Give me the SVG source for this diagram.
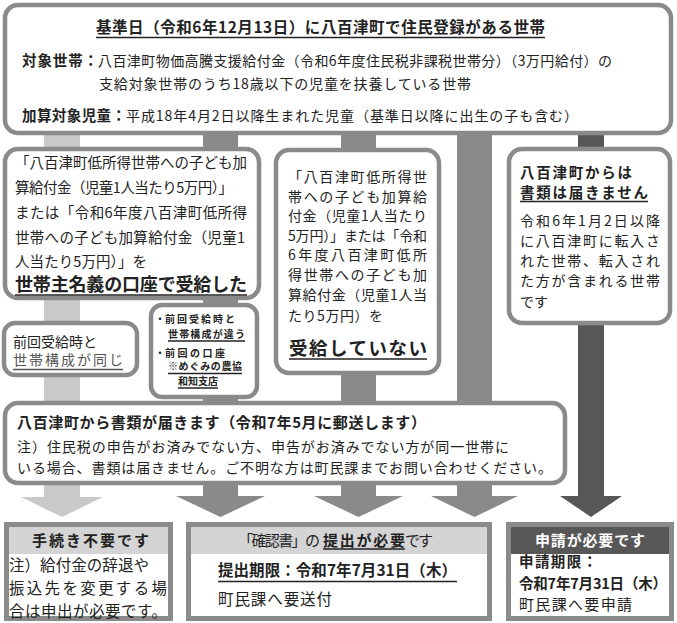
<svg xmlns="http://www.w3.org/2000/svg" width="677" height="623" viewBox="0 0 677 623" font-size="14">
<style>
.t{font-family:"Noto Sans CJK JP","Noto Sans",sans-serif;fill:#222}
.b{font-weight:700}
.w{fill:#fff}
.g{fill:#555}
.box{fill:#fff;stroke:#8a8a8a;stroke-width:4.5}
.sq{fill:#fff;stroke:#8a8a8a;stroke-width:5}
.ul{stroke:#222;stroke-width:1.5}
.lt{fill:#c9c9c9}
.md{fill:#8a8a8a}
.dk{fill:#575757}
</style>
<rect width="677" height="623" fill="#fff"/>
<g id="connectors">
<rect class="lt" x="44" y="130" width="36" height="368"/>
<polygon class="lt" points="21,497 103,497 62,517"/>
<rect class="md" x="203" y="130" width="35" height="368"/>
<polygon class="md" points="176,496 265,496 220.5,517"/>
<rect class="md" x="341" y="130" width="35" height="368"/>
<polygon class="md" points="314,496 403,496 358.5,517"/>
<rect class="md" x="457" y="130" width="35" height="368"/>
<polygon class="md" points="431,496 518,496 474.5,517"/>
<rect class="dk" x="578" y="130" width="26" height="368"/>
<polygon class="dk" points="560,496 622,496 591,517"/>
</g>
<g id="top">
<rect class="box" x="5" y="5" width="666" height="128" rx="13"/>
<text class="t b" x="96" y="33" font-size="15.5" textLength="449">基準日（令和6年12月13日）に八百津町で住民登録がある世帯</text>
<line class="ul" x1="96" y1="37.5" x2="545" y2="37.5"/>
<text class="t b" x="22" y="66" font-size="14.5" textLength="76">対象世帯：</text>
<text class="t" x="98" y="66" textLength="514">八百津町物価高騰支援給付金（令和6年度住民税非課税世帯分）（3万円給付）の</text>
<text class="t" x="99" y="89" textLength="372">支給対象世帯のうち18歳以下の児童を扶養している世帯</text>
<text class="t b" x="22" y="121" font-size="14.5" textLength="104">加算対象児童：</text>
<text class="t" x="126" y="121" textLength="452">平成18年4月2日以降生まれた児童（基準日以降に出生の子も含む）</text>
</g>
<g id="received">
<rect class="box" x="5" y="149" width="254" height="149" rx="13"/>
<text class="t" x="15" y="168" font-size="14.5" textLength="232">「八百津町低所得世帯への子ども加</text>
<text class="t" x="15" y="193" font-size="14.5" textLength="218">算給付金（児童1人当たり5万円）」</text>
<text class="t" x="15" y="218" font-size="14.5" textLength="232">または「令和6年度八百津町低所得</text>
<text class="t" x="15" y="243" font-size="14.5" textLength="230">世帯への子ども加算給付金（児童1</text>
<text class="t" x="15" y="267" font-size="14.5" textLength="132">人当たり5万円）」を</text>
<text class="t b" x="15" y="291" font-size="18" textLength="232">世帯主名義の口座で受給した</text>
<line class="ul" x1="15" y1="295" x2="247" y2="295" stroke-width="2"/>
</g>
<g id="notreceived">
<rect class="box" x="276" y="150" width="163" height="223" rx="13"/>
<text class="t" x="288" y="182" textLength="139">「八百津町低所得世</text>
<text class="t" x="288" y="202" textLength="139">帯への子ども加算給</text>
<text class="t" x="288" y="221" textLength="139">付金（児童1人当たり</text>
<text class="t" x="288" y="241" textLength="139">5万円）」または「令和</text>
<text class="t" x="288" y="260" textLength="139">6年度八百津町低所</text>
<text class="t" x="288" y="280" textLength="139">得世帯への子ども加</text>
<text class="t" x="288" y="300" textLength="139">算給付金（児童1人当</text>
<text class="t" x="288" y="321" textLength="95">たり5万円）を</text>
<text class="t b" x="289" y="355" font-size="18.5" textLength="138">受給していない</text>
<line class="ul" x1="289" y1="359" x2="427" y2="359" stroke-width="2"/>
</g>
<g id="nodocs">
<rect class="box" x="509" y="149" width="161" height="174" rx="13"/>
<text class="t b" x="520" y="177.5" font-size="14.5" textLength="112">八百津町からは</text>
<text class="t b" x="520" y="197.5" font-size="14.5" textLength="128">書類は届きません</text>
<line class="ul" x1="520" y1="201.5" x2="648" y2="201.5"/>
<text class="t" x="520" y="226" textLength="140">令和6年1月2日以降</text>
<text class="t" x="520" y="246" textLength="140">に八百津町に転入さ</text>
<text class="t" x="520" y="266" textLength="140">れた世帯、転入され</text>
<text class="t" x="520" y="286" textLength="140">た方が含まれる世帯</text>
<text class="t" x="520" y="307" textLength="28">です</text>
</g>
<g id="same">
<rect class="box" x="4" y="323" width="133" height="52" rx="11"/>
<text class="t" x="13" y="346.5" textLength="84">前回受給時と</text>
<text class="t g" x="13" y="365" textLength="110">世帯構成が同じ</text>
<line x1="13" y1="369.5" x2="123" y2="369.5" stroke="#555" stroke-width="1.5"/>
</g>
<g id="different">
<rect class="box" x="151" y="305" width="106" height="92" rx="11"/>
<text class="t b" x="155" y="323" font-size="10">・</text>
<text class="t b" x="165" y="323" font-size="10" textLength="70">前回受給時と</text>
<text class="t b" x="168" y="337.5" font-size="10" textLength="77">世帯構成が違う</text>
<line class="ul" x1="168" y1="341" x2="245" y2="341" stroke-width="1.2"/>
<text class="t b" x="155" y="356.5" font-size="10">・</text>
<text class="t b" x="165" y="356.5" font-size="10" textLength="60">前回の口座</text>
<text class="t b" x="168" y="370" font-size="10" textLength="74">※めぐみの農協</text>
<line class="ul" x1="168" y1="373.5" x2="242" y2="373.5" stroke-width="1.2"/>
<text class="t b" x="178" y="384.5" font-size="10" textLength="40">和知支店</text>
<line class="ul" x1="178" y1="388" x2="218" y2="388" stroke-width="1.2"/>
</g>
<g id="mail">
<rect class="box" x="5" y="403" width="560" height="80" rx="13"/>
<text class="t b" x="17" y="428" font-size="15" textLength="409">八百津町から書類が届きます（令和7年5月に郵送します）</text>
<text class="t" x="17" y="452" textLength="492">注）住民税の申告がお済みでない方、申告がお済みでない方が同一世帯に</text>
<text class="t" x="17" y="473" textLength="535">いる場合、書類は届きません。ご不明な方は町民課までお問い合わせください。</text>
</g>
<g id="nofill">
<rect class="sq" x="6.5" y="524.5" width="164" height="94"/>
<rect x="9" y="527" width="159" height="27" fill="#d4d4d4"/>
<text class="t b" x="32" y="545.5" font-size="15" textLength="117">手続き不要です</text>
<text class="t" x="9" y="571" font-size="15.5" textLength="140">注）給付金の辞退や</text>
<text class="t" x="9" y="594" font-size="15.5" textLength="158">振込先を変更する場</text>
<text class="t" x="9" y="617" font-size="15.5" textLength="158">合は申出が必要です。</text>
</g>
<g id="confirm">
<rect class="sq" x="188.5" y="524.5" width="301" height="94"/>
<rect x="191" y="527" width="296" height="27" fill="#d4d4d4"/>
<text class="t" x="238" y="545.5" font-size="15" textLength="82">「確認書」の</text>
<text class="t b" x="323" y="545.5" font-size="15" textLength="82">提出が必要</text>
<line class="ul" x1="323" y1="549" x2="405" y2="549"/>
<text class="t" x="405" y="545.5" font-size="15" textLength="28">です</text>
<text class="t b" x="218" y="576" font-size="15.5" textLength="239">提出期限：令和7年7月31日（木）</text>
<line class="ul" x1="218" y1="581.5" x2="457" y2="581.5"/>
<text class="t" x="218" y="605" font-size="15.5" textLength="114">町民課へ要送付</text>
</g>
<g id="apply">
<rect class="sq" x="508.5" y="524.5" width="163" height="94"/>
<rect x="511" y="527" width="158" height="27" fill="#575757"/>
<text class="t b w" x="535" y="545.5" font-size="15" textLength="110">申請が必要です</text>
<text class="t b" x="519" y="567" font-size="14.5" textLength="78">申請期限：</text>
<text class="t b" x="519" y="588.5" font-size="14.5" textLength="148">令和7年7月31日（木）</text>
<text class="t" x="519" y="610" font-size="15" textLength="113">町民課へ要申請</text>
</g>
</svg>
